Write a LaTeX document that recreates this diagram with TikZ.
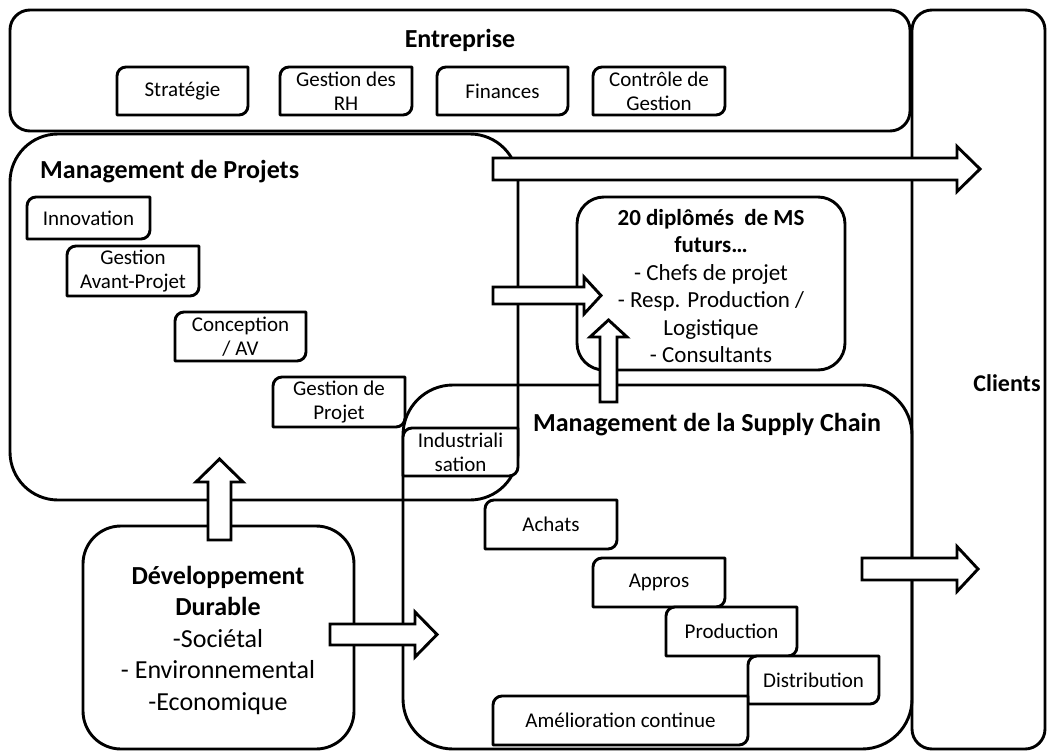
\documentclass[tikz,border=0pt]{standalone}
\usepackage{fontspec}
\setmainfont{Carlito}
\tikzset{
  frame/.style={line width=2.9pt, draw=black, line join=round},
  bigbox/.style={frame},
  arrowshape/.style={line width=2.9pt, draw=black, fill=white, line join=miter, miter limit=10},
  boxtext/.style={align=center, inner sep=0pt, font=\fontsize{21}{24}\selectfont},
  titletext/.style={inner sep=0pt, font=\fontsize{26}{31}\selectfont\bfseries},
}
\newcommand{\dbox}[6]{%
  \draw[frame, fill=white] (#2,#5) -- (#2,#3+9) .. controls (#2,#3+4) and (#2+4,#3) .. (#2+9,#3) -- (#4,#3) -- (#4,#5-9) .. controls (#4,#5-4) and (#4-4,#5) .. (#4-9,#5) -- cycle;
  \node[boxtext] (#1) at ({(#2+#4)/2},{(#3+#5)/2}) {#6};
}
\newcommand{\rarr}[6]{%
  \draw[arrowshape] (#1,#4-#5) -- (#2,#4-#5) -- (#2,#4-#6) -- (#3,#4) -- (#2,#4+#6) -- (#2,#4+#5) -- (#1,#4+#5) -- cycle;
}
\newcommand{\uarr}[6]{%
  \draw[arrowshape] (#1-#5,#2) -- (#1-#5,#3) -- (#1-#6,#3) -- (#1,#4) -- (#1+#6,#3) -- (#1+#5,#3) -- (#1+#5,#2) -- cycle;
}
\begin{document}
\begin{tikzpicture}[x=1pt,y=-1pt]
\useasboundingbox (0,0) rectangle (1048,751);
% big frames
\draw[bigbox, rounded corners=20pt] (10,10) rectangle (910,131);
\draw[bigbox, rounded corners=20pt] (912,10) rectangle (1045,749);
\draw[bigbox, rounded corners=48pt] (10,134) rectangle (518,500);
\draw[bigbox, rounded corners=50pt] (403,385) rectangle (912,749);
\draw[bigbox, rounded corners=38pt] (83,526) rectangle (354,749);
\draw[bigbox, rounded corners=27pt] (577,197) rectangle (845,370);
% titles
\node[titletext] (ent) at (460,40) {Entreprise};
\node[titletext, font=\fontsize{24}{29}\selectfont\bfseries] (cli) at (1007,383) {Clients};
\node[titletext, anchor=west] (mp) at (40,172) {Management de Projets};
\node[titletext] (msc) at (707,425) {Management de la Supply Chain};
\node[align=center, inner sep=0pt, font=\fontsize{26}{31.5}\selectfont] (dd) at (218,640)
  {\textbf{Développement}\\\textbf{Durable}\\-Sociétal\\- Environnemental\\-Economique};
\node[align=center, inner sep=0pt, font=\fontsize{23}{27.5}\selectfont] (ms) at (711,286)
  {\textbf{20 diplômés\ \ de MS}\\\textbf{futurs…}\\- Chefs de projet\\- Resp. Production /\\Logistique\\- Consultants};
% small boxes
\dbox{strat}{117}{67}{248}{115}{Stratégie}
\dbox{grh}{280}{67}{412}{115}{Gestion des\\RH}
\dbox{fin}{437}{67}{568}{115}{Finances}
\dbox{cdg}{593}{67}{725}{115}{Contrôle de\\Gestion}
\dbox{inno}{27}{197}{150}{239}{Innovation}
\dbox{gap}{67}{246}{199}{296}{Gestion\\Avant-Projet}
\dbox{conc}{175}{312}{306}{361}{Conception\\/ AV}
\dbox{gdp}{273}{377}{405}{427}{Gestion de\\Projet}
\dbox{indus}{403}{428}{518}{476}{Industriali\\sation}
\dbox{ach}{485}{500}{617}{549}{Achats}
\dbox{appr}{593}{558}{725}{607}{Appros}
\dbox{prod}{666}{607}{797}{656}{Production}
\dbox{dist}{748}{656}{879}{704}{Distribution}
\dbox{amel}{493}{696}{748}{745}{Amélioration continue}
% block arrows
\rarr{493}{957}{980}{169}{11}{22.5}
\rarr{493}{584}{601}{295.5}{8.5}{18.5}
\uarr{608.5}{402}{337}{320}{8.5}{18.5}
\uarr{219.5}{540}{482}{459}{11.5}{23.5}
\rarr{330}{415}{437}{634.5}{10.5}{22.5}
\rarr{862}{957}{978}{569}{11}{22.5}
\end{tikzpicture}
\end{document}
